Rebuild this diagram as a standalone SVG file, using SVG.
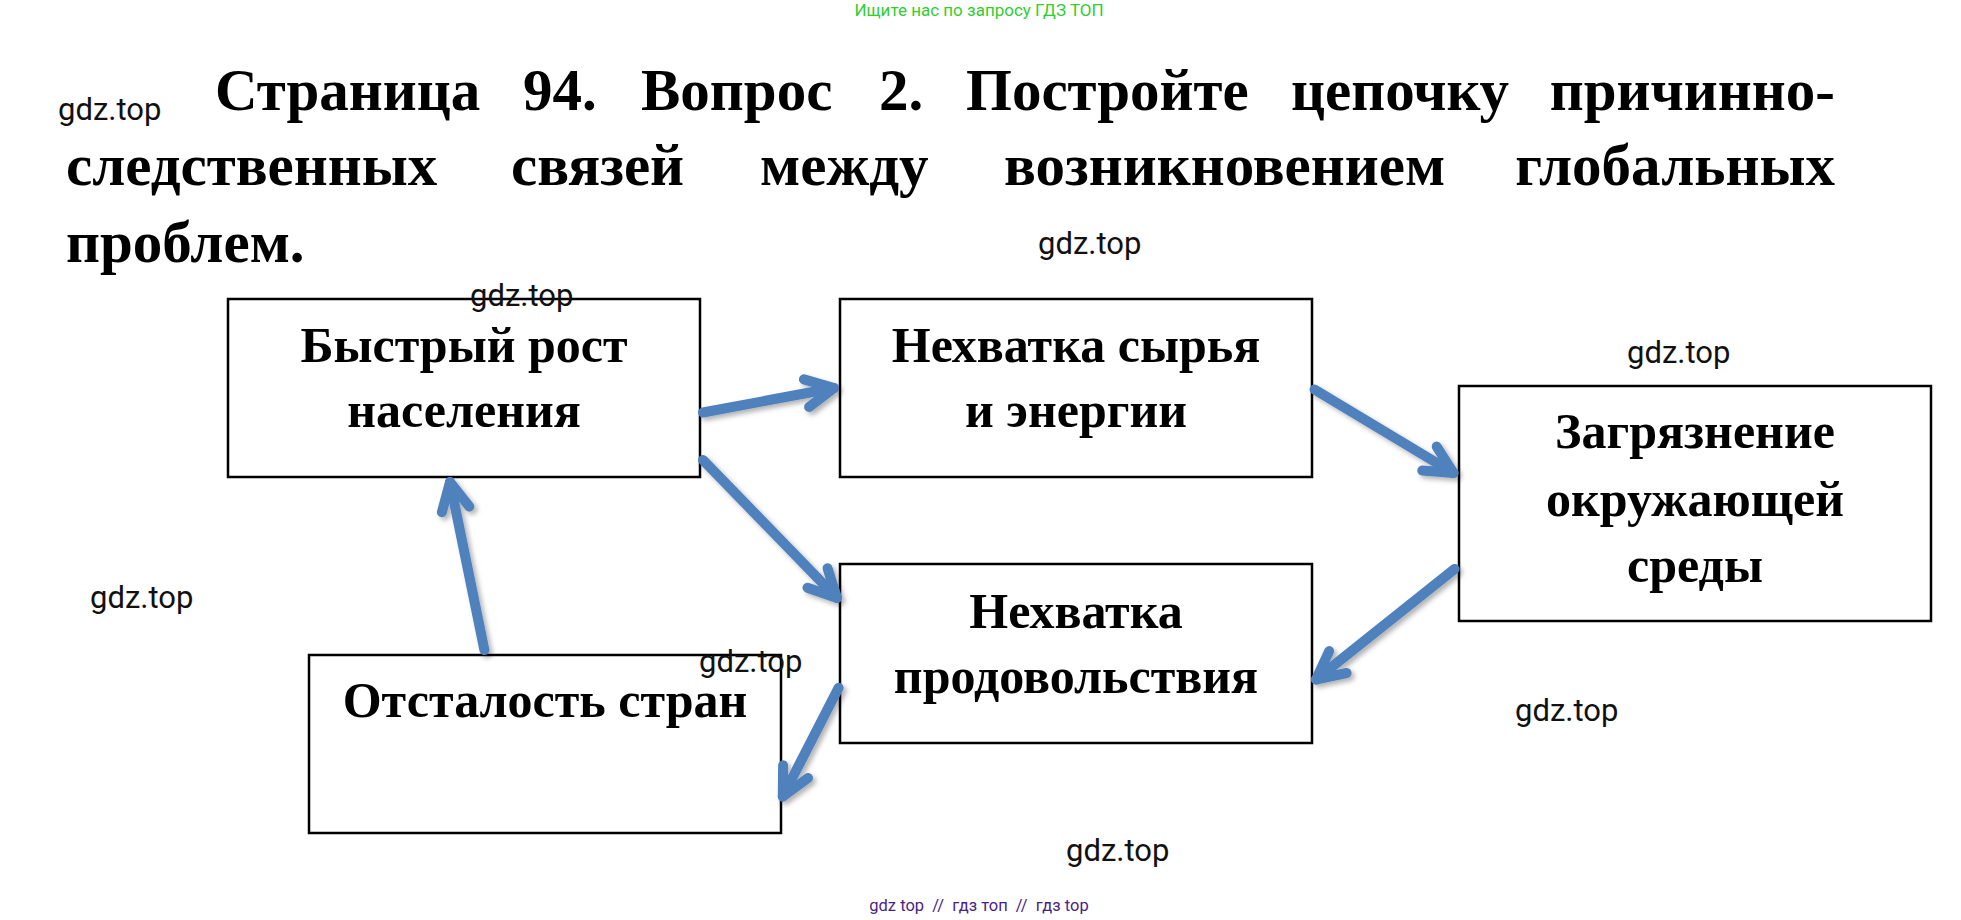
<svg xmlns="http://www.w3.org/2000/svg" width="1961" height="920" viewBox="0 0 1961 920">
<style>
.bg{fill:#fff}
.box{fill:#fff;stroke:#000;stroke-width:2.5}
.bt{font-family:"Liberation Serif","Times New Roman",serif;font-weight:bold;font-size:50px;text-anchor:middle;fill:#000}
.title{font-family:"Liberation Serif","Times New Roman",serif;font-weight:bold;font-size:59px;fill:#000}
.wm{font-family:Roboto,"Liberation Sans",Arial,sans-serif;font-size:31px;fill:#111}
.top{font-family:Roboto,"Liberation Sans",Arial,sans-serif;font-size:17px;fill:#33cc33;text-anchor:middle}
.bot{font-family:Roboto,"Liberation Sans",Arial,sans-serif;font-size:16.5px;fill:#4a1f84;text-anchor:middle;white-space:pre}
.conn{fill:none;stroke:#4F81BD;stroke-width:10;stroke-linecap:round;marker-end:url(#ah)}
</style>
<defs>
<marker id="ah" markerUnits="userSpaceOnUse" markerWidth="70" markerHeight="70" viewBox="-45 -35 70 70" refX="0" refY="0" orient="auto" overflow="visible">
<path d="M-28,-14 L0,0 L-28,14" fill="none" stroke="#4F81BD" stroke-width="10" stroke-linecap="round" stroke-linejoin="round"/>
</marker>
<filter id="sh" x="-20%" y="-20%" width="140%" height="140%">
<feDropShadow dx="3" dy="3" stdDeviation="2.5" flood-color="#000" flood-opacity="0.3"/>
</filter>
</defs>
<rect class="bg" x="0" y="0" width="1961" height="920"/>

<text class="top" x="979" y="16">Ищите нас по запросу ГДЗ ТОП</text>

<g id="title" class="title">
<text x="215" y="110">Страница</text>
<text x="523" y="110">94.</text>
<text x="641" y="110">Вопрос</text>
<text x="879" y="110">2.</text>
<text x="966" y="110">Постройте</text>
<text x="1291" y="110">цепочку</text>
<text x="1835" y="110" text-anchor="end">причинно-</text>
<text x="66" y="185">следственных</text>
<text x="511" y="185">связей</text>
<text x="760" y="185">между</text>
<text x="1004" y="185">возникновением</text>
<text x="1835" y="185" text-anchor="end">глобальных</text>
<text x="66" y="262">проблем.</text>
</g>

<g id="node-rost">
<rect class="box" x="228" y="299" width="472" height="178"/>
<text class="bt" x="464" y="362">Быстрый рост</text>
<text class="bt" x="464" y="427">населения</text>
</g>

<g id="node-syrie">
<rect class="box" x="840" y="299" width="472" height="178"/>
<text class="bt" x="1076" y="362">Нехватка сырья</text>
<text class="bt" x="1076" y="427">и энергии</text>
</g>

<g id="node-zagr">
<rect class="box" x="1459" y="386" width="472" height="235"/>
<text class="bt" x="1695" y="448">Загрязнение</text>
<text class="bt" x="1695" y="516">окружающей</text>
<text class="bt" x="1695" y="582">среды</text>
</g>

<g id="node-prod">
<rect class="box" x="840" y="564" width="472" height="179"/>
<text class="bt" x="1076" y="628">Нехватка</text>
<text class="bt" x="1076" y="693">продовольствия</text>
</g>

<g id="node-otst">
<rect class="box" x="309" y="655" width="472" height="178"/>
<text class="bt" x="545" y="717">Отсталость стран</text>
</g>

<g id="connectors" filter="url(#sh)">
<path class="conn" d="M703,412.5 L834,388"/>
<path class="conn" d="M703,460 L837,598"/>
<path class="conn" d="M484.4,650 L450,482"/>
<path class="conn" d="M1314.5,389.5 L1453.5,473"/>
<path class="conn" d="M1454.6,569 L1316,679.5"/>
<path class="conn" d="M838.6,687.7 L782.8,796.5"/>
</g>

<g id="watermarks" class="wm">
<text x="58" y="120">gdz.top</text>
<text x="1038" y="254">gdz.top</text>
<text x="470" y="306">gdz.top</text>
<text x="1627" y="363">gdz.top</text>
<text x="90" y="608">gdz.top</text>
<text x="699" y="672">gdz.top</text>
<text x="1515" y="721">gdz.top</text>
<text x="1066" y="861">gdz.top</text>
</g>

<text class="bot" x="979" y="911" xml:space="preserve">gdz top  //  гдз топ  //  гдз top</text>
</svg>
